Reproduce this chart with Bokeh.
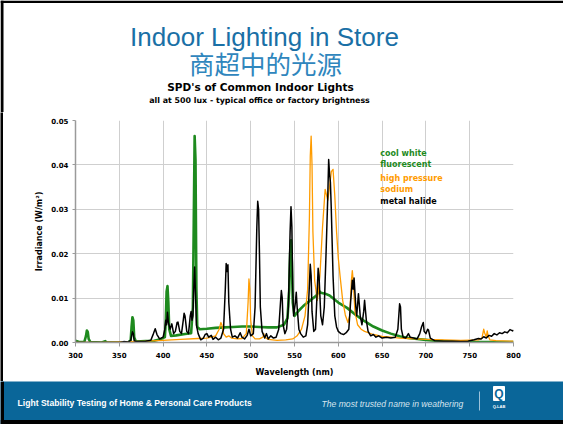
from bokeh.plotting import figure
from bokeh.models import Range1d, FixedTicker, NumeralTickFormatter, Label
from bokeh.layouts import column, row
from bokeh.embed import file_html
from bokeh.resources import INLINE
from bokeh.core.properties import value

# ---------------- data ----------------
title_en = "Indoor Lighting in Store"
title_zh = "商超中的光源"
chart_title = "SPD's of Common Indoor Lights"
chart_subtitle = "all at 500 lux - typical office or factory brightness"
x_label = "Wavelength (nm)"
y_label = "Irradiance (W/m²)"
x_ticks = [300, 350, 400, 450, 500, 550, 600, 650, 700, 750, 800]
y_ticks = [0.0, 0.01, 0.02, 0.03, 0.04, 0.05]
footer_left = "Light Stability Testing of Home & Personal Care Products"
footer_right = "The most trusted name in weathering"

legend_lines = ["cool white", "fluorescent", "high pressure", "sodium", "metal halide"]
legend_series = ["cwf", "cwf", "hps", "hps", "mh"]

# cool white fluorescent (wavelength nm, irradiance W/m2)
cwf_points = [
    (300, 0.0004), (304, 0.0001), (310, 0.0001), (312, 0.0015), (313, 0.0027),
    (314, 0.0024), (315, 0.0008), (317, 0.0001), (330, 0.0000), (334, 0.0003),
    (336, 0.0000), (360, 0.0000), (363, 0.0005), (364, 0.0035), (365, 0.0057),
    (366, 0.0050), (367, 0.0012), (369, 0.0002), (380, 0.0003), (390, 0.0004),
    (398, 0.0008), (402, 0.0012), (403, 0.0045), (404, 0.0115), (405, 0.0127),
    (406, 0.0090), (407, 0.0030), (409, 0.0015), (415, 0.0016), (425, 0.0019),
    (432, 0.0021), (434, 0.0080), (435, 0.0270), (436, 0.0465), (437, 0.0410),
    (438, 0.0120), (439, 0.0035), (442, 0.0030), (450, 0.0031), (460, 0.0033),
    (470, 0.0034), (480, 0.0035), (490, 0.0036), (500, 0.0036), (510, 0.0035),
    (520, 0.0034), (530, 0.0034), (538, 0.0040), (542, 0.0055), (544, 0.0120),
    (545, 0.0200), (546, 0.0230), (547, 0.0180), (548, 0.0090), (550, 0.0060),
    (555, 0.0072), (560, 0.0082), (565, 0.0090), (570, 0.0098), (575, 0.0106),
    (578, 0.0116), (580, 0.0112), (585, 0.0110), (590, 0.0106), (595, 0.0098),
    (600, 0.0090), (610, 0.0078), (620, 0.0062), (630, 0.0048), (640, 0.0036),
    (650, 0.0027), (660, 0.0020), (670, 0.0014), (680, 0.0010), (690, 0.0008),
    (700, 0.0006), (710, 0.0004), (720, 0.0003), (740, 0.0002), (760, 0.0001),
    (780, 0.0001), (800, 0.0001),
]

# high pressure sodium
hps_points = [
    (300, 0.0000), (320, 0.0000), (330, 0.0000), (340, 0.0001), (360, 0.0002),
    (380, 0.0003), (400, 0.0005), (420, 0.0007), (440, 0.0009), (450, 0.0010),
    (455, 0.0012), (460, 0.0015), (464, 0.0030), (466, 0.0045), (467, 0.0040),
    (469, 0.0020), (472, 0.0012), (475, 0.0015), (478, 0.0010), (485, 0.0008),
    (490, 0.0009), (495, 0.0020), (497, 0.0090), (498, 0.0143), (499, 0.0120),
    (500, 0.0050), (502, 0.0015), (505, 0.0008), (510, 0.0008), (514, 0.0012),
    (515, 0.0020), (516, 0.0012), (520, 0.0007), (530, 0.0005), (540, 0.0006),
    (548, 0.0008), (553, 0.0015), (558, 0.0030), (562, 0.0060), (565, 0.0120),
    (567, 0.0280), (568, 0.0420), (569, 0.0465), (570, 0.0400), (571, 0.0250),
    (573, 0.0140), (576, 0.0095), (579, 0.0150), (582, 0.0260), (585, 0.0345),
    (588, 0.0320), (590, 0.0350), (592, 0.0385), (594, 0.0390), (596, 0.0330),
    (598, 0.0250), (600, 0.0190), (602, 0.0150), (605, 0.0095), (608, 0.0062),
    (611, 0.0045), (613, 0.0060), (615, 0.0140), (616, 0.0162), (617, 0.0140),
    (619, 0.0070), (622, 0.0040), (626, 0.0030), (630, 0.0025), (640, 0.0018),
    (650, 0.0014), (660, 0.0012), (670, 0.0010), (680, 0.0009), (690, 0.0008),
    (700, 0.0007), (720, 0.0006), (740, 0.0005), (760, 0.0006), (764, 0.0010),
    (766, 0.0030), (767, 0.0022), (769, 0.0012), (770, 0.0026), (771, 0.0015),
    (773, 0.0006), (780, 0.0004), (800, 0.0003),
]

# metal halide
mh_points = [
    (300, 0.0000), (350, 0.0000), (355, 0.0002), (360, 0.0001), (363, 0.0005),
    (365, 0.0024), (366, 0.0020), (367, 0.0004), (370, 0.0002), (380, 0.0003),
    (386, 0.0005), (389, 0.0020), (391, 0.0031), (393, 0.0018), (396, 0.0008),
    (400, 0.0012), (402, 0.0030), (403, 0.0050), (404, 0.0040), (405, 0.0068),
    (406, 0.0045), (408, 0.0030), (410, 0.0042), (412, 0.0020), (414, 0.0025),
    (416, 0.0045), (417, 0.0046), (419, 0.0025), (421, 0.0020), (423, 0.0050),
    (424, 0.0066), (425, 0.0060), (427, 0.0025), (429, 0.0020), (431, 0.0060),
    (432, 0.0070), (433, 0.0050), (434, 0.0060), (435, 0.0120), (436, 0.0170),
    (437, 0.0110), (438, 0.0040), (440, 0.0020), (443, 0.0006), (446, 0.0010),
    (448, 0.0018), (450, 0.0020), (452, 0.0012), (455, 0.0016), (457, 0.0007),
    (460, 0.0012), (463, 0.0006), (466, 0.0010), (469, 0.0030), (471, 0.0120),
    (472, 0.0178), (473, 0.0160), (474, 0.0175), (475, 0.0090), (477, 0.0030),
    (479, 0.0012), (482, 0.0015), (485, 0.0010), (488, 0.0022), (490, 0.0012),
    (493, 0.0008), (496, 0.0016), (498, 0.0030), (500, 0.0015), (503, 0.0020),
    (505, 0.0080), (507, 0.0260), (508, 0.0318), (509, 0.0300), (510, 0.0200),
    (511, 0.0080), (513, 0.0025), (516, 0.0010), (518, 0.0020), (520, 0.0008),
    (523, 0.0015), (526, 0.0010), (529, 0.0012), (532, 0.0030), (534, 0.0090),
    (535, 0.0117), (536, 0.0100), (537, 0.0040), (539, 0.0020), (541, 0.0030),
    (543, 0.0080), (545, 0.0250), (546, 0.0306), (547, 0.0260), (548, 0.0120),
    (549, 0.0060), (551, 0.0090), (552, 0.0113), (553, 0.0080), (555, 0.0030),
    (557, 0.0020), (560, 0.0012), (563, 0.0015), (565, 0.0040), (567, 0.0130),
    (568, 0.0176), (569, 0.0150), (570, 0.0070), (572, 0.0025), (574, 0.0030),
    (576, 0.0120), (577, 0.0167), (578, 0.0150), (580, 0.0060), (582, 0.0040),
    (584, 0.0080), (586, 0.0200), (588, 0.0330), (589, 0.0412), (590, 0.0380),
    (591, 0.0360), (592, 0.0300), (594, 0.0150), (596, 0.0060), (598, 0.0035),
    (600, 0.0025), (603, 0.0020), (606, 0.0018), (609, 0.0022), (612, 0.0030),
    (614, 0.0090), (616, 0.0140), (617, 0.0120), (618, 0.0145), (620, 0.0080),
    (621, 0.0060), (623, 0.0110), (625, 0.0060), (627, 0.0040), (629, 0.0070),
    (630, 0.0095), (632, 0.0050), (634, 0.0025), (637, 0.0015), (640, 0.0018),
    (643, 0.0012), (646, 0.0015), (650, 0.0010), (655, 0.0012), (660, 0.0010),
    (665, 0.0012), (668, 0.0030), (670, 0.0087), (671, 0.0080), (672, 0.0030),
    (674, 0.0012), (677, 0.0010), (680, 0.0020), (682, 0.0012), (686, 0.0010),
    (690, 0.0008), (693, 0.0020), (695, 0.0035), (697, 0.0045), (698, 0.0025),
    (700, 0.0020), (702, 0.0030), (703, 0.0028), (705, 0.0010), (710, 0.0004),
    (720, 0.0003), (730, 0.0003), (740, 0.0002), (748, 0.0003), (755, 0.0006),
    (760, 0.0009), (763, 0.0008), (766, 0.0013), (769, 0.0010), (772, 0.0016),
    (775, 0.0014), (778, 0.0020), (781, 0.0017), (784, 0.0022), (787, 0.0020),
    (790, 0.0024), (793, 0.0022), (796, 0.0029), (799, 0.0026), (800, 0.0028),
]

# ---------------- styles ----------------
W = 563
EDGE = 3
HDR_H, CHART_H, FTR_H = 112, 269, 43
GREEN = "#1e8a1e"
ORANGE = "#ff9c00"
BLACK = "#000000"
COLORS = {"cwf": GREEN, "hps": ORANGE, "mh": BLACK}
WIDTHS = {"cwf": 2.6, "hps": 1.3, "mh": 1.5}
TITLE_BLUE = "#1a70a6"
ZH_BLUE = "#2f86bd"
FOOTER_BLUE = "#0a6699"
CHART_FONT = "DejaVu Sans"
SANS = "Liberation Sans"


def blank(width, height, y0, y1, bg="#ffffff"):
    f = figure(width=width, height=height, x_range=Range1d(0, width), y_range=Range1d(y1, y0),
               output_backend="svg", toolbar_location=None,
               x_axis_type=None, y_axis_type=None, min_border=0,
               outline_line_color=None, frame_align=False,
               background_fill_color=bg, border_fill_color=bg)
    f.grid.visible = False
    return f


def txt(f, X, Y, text, font, size, color, style="normal", align="left", baseline="middle"):
    f.text(x=[X], y=[Y], text=[text], text_font=value(font), text_font_size=size,
           text_font_style=style, text_color=color, text_align=align,
           text_baseline=baseline)


# ---------------- header ----------------
hdr = blank(W, HDR_H, 0, HDR_H)
hdr.quad(left=[0], right=[W], top=[0], bottom=[2.5], fill_color=BLACK, line_color=None)
hdr.quad(left=[0], right=[EDGE], top=[0], bottom=[HDR_H], fill_color=BLACK, line_color=None)
txt(hdr, 264, 36, title_en, SANS, "26px", TITLE_BLUE, align="center", baseline="alphabetic")
txt(hdr, 265, 62, title_zh, "Noto Sans CJK SC", "25.5px", ZH_BLUE, align="center")
txt(hdr, 260, 86, chart_title, CHART_FONT, "10.5px", "#000000", "bold", "center")
txt(hdr, 259, 100, chart_subtitle, CHART_FONT, "7.9px", "#000000", "bold", "center")

# left black edge beside the chart
edge = blank(EDGE, CHART_H, 0, CHART_H, bg=BLACK)

# ---------------- chart ----------------
p = figure(width=W - EDGE, height=CHART_H, x_range=Range1d(300, 800), y_range=Range1d(0, 0.05),
           output_backend="svg", toolbar_location=None,
           min_border_left=75 - EDGE, min_border_right=W - 513, min_border_top=8,
           min_border_bottom=39, outline_line_color=None, frame_align=False)

for key, pts in (("cwf", cwf_points), ("hps", hps_points), ("mh", mh_points)):
    xs = [a for a, b in pts]
    ys = [b for a, b in pts]
    p.line(xs, ys, line_color=COLORS[key], line_width=WIDTHS[key], line_join="round")

p.xaxis.ticker = FixedTicker(ticks=x_ticks)
p.yaxis.ticker = FixedTicker(ticks=y_ticks)
p.yaxis.formatter = NumeralTickFormatter(format="0.00")
p.xgrid.ticker = FixedTicker(ticks=x_ticks)
p.ygrid.ticker = FixedTicker(ticks=y_ticks)
p.grid.grid_line_color = "#cfcfcf"
p.grid.grid_line_width = 1

for ax in (p.xaxis[0], p.yaxis[0]):
    ax.axis_line_color = "#9a9a9a"
    ax.axis_line_width = 1.5
    ax.major_tick_line_color = "#9a9a9a"
    ax.minor_tick_line_color = None
    ax.major_tick_in = 0
    ax.major_label_text_font = CHART_FONT
    ax.major_label_text_font_style = "bold"
    ax.major_label_text_font_size = "7px"
    ax.major_label_text_color = "#000000"
    ax.axis_label_text_font = CHART_FONT
    ax.axis_label_text_font_style = "bold"
    ax.axis_label_text_font_size = "8px"
    ax.axis_label_text_color = "#000000"

p.xaxis.major_tick_out = 4
p.xaxis.major_label_standoff = 5
p.xaxis.axis_label = x_label
p.xaxis.axis_label_standoff = 7
p.yaxis.major_tick_out = 3
p.yaxis.major_label_standoff = 4
p.yaxis.axis_label = y_label
p.yaxis.axis_label_standoff = 4

legend_y = [0.0426, 0.0401, 0.0369, 0.0345, 0.0318]
for t, key, yy in zip(legend_lines, legend_series, legend_y):
    p.add_layout(Label(x=648, y=yy, text=t, text_color=COLORS[key],
                       text_font=CHART_FONT, text_font_style="bold",
                       text_font_size="8px", text_baseline="middle"))

# ---------------- footer ----------------
y0 = HDR_H + CHART_H
ftr = blank(W, FTR_H, y0, y0 + FTR_H, bg=FOOTER_BLUE)
ftr.quad(left=[0], right=[W], top=[419.5], bottom=[y0 + FTR_H], fill_color=BLACK, line_color=None)
ftr.quad(left=[0], right=[EDGE + 0.5], top=[y0], bottom=[y0 + FTR_H], fill_color=BLACK,
         line_color=None)
txt(ftr, 17, 402, footer_left, SANS, "8.6px", "#ffffff", "bold")
txt(ftr, 321, 403, footer_right, SANS, "8.6px", "#d5e4ee", "italic")
ftr.segment(x0=[479], y0=[391], x1=[479], y1=[410], line_color="#9cc2da", line_width=1)
ftr.quad(left=[493], right=[504], top=[386], bottom=[400], fill_color="#ffffff",
         line_color="#ffffff")
txt(ftr, 498.5, 393.5, "Q", SANS, "12px", FOOTER_BLUE, "bold", "center")
txt(ftr, 498.5, 406, "Q-LAB", SANS, "4px", "#ffffff", "bold", "center")

layout = column(hdr, row(edge, p, spacing=0), ftr, spacing=0)
open("out.html", "w").write(file_html(layout, INLINE))
